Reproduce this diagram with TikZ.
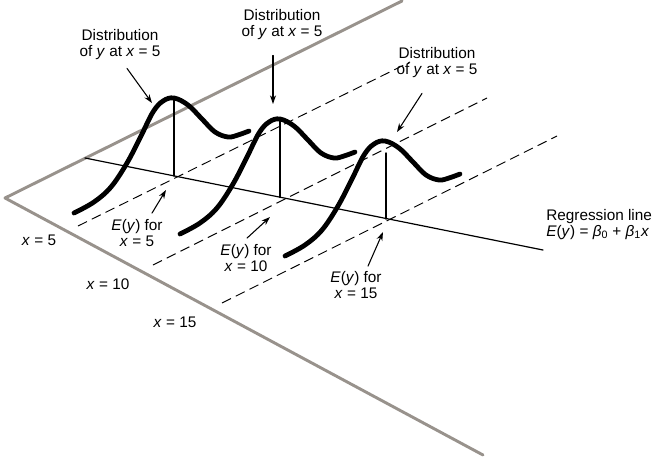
\documentclass[tikz,border=0pt]{standalone}
\usepackage{fontspec}
\setmainfont{Liberation Sans}
\usetikzlibrary{calc,arrows.meta}
\definecolor{planegray}{RGB}{152,146,140}
\begin{document}
\begin{tikzpicture}[x=0.75pt, y=-0.75pt, line cap=round, line join=round, >={Stealth[length=6.5pt,width=4.5pt]}, font=\fontsize{11.5}{12}\selectfont]
			\tikzset{plane/.style={planegray, line width=2.2pt},
				guide/.style={line cap=butt, dash pattern=on 7.5pt off 4pt, line width=0.7pt},
				density/.style={line width=3.6pt},
				label style/.style={align=center, inner sep=0pt}}
			\useasboundingbox (0,0) rectangle (657,457);
			% the (x,y) plane
			\coordinate (corner) at (5,198);
			\coordinate (far) at (402,1);
			\coordinate (near) at (483,455);
			\draw[plane] (far)--(corner)--(near);
			% regression line and the means on it
			\coordinate (r0) at (85,158);
			\coordinate (r1) at (543,250);
			\coordinate (m1) at (174,176);
			\coordinate (m2) at (280,197.5);
			\coordinate (m3) at (386,219);
			\draw[line width=0.9pt] (r0)--(r1);
			\foreach \ax/\ay/\bx/\by in {78/226/410/62, 153/265/487/98, 222/303/557/136}
				\draw[guide] (\ax,\ay)--(\bx,\by);
			\draw[line width=1.1pt] (174,98)--(m1) (280,119)--(m2) (386,153)--(m3);
			\foreach \px/\py in {174/98, 280/119, 385/141}
				\draw[density, shift={(\px,\py)}] plot[smooth, tension=0.6] coordinates
				{(-100,115) (-80,104) (-63,89) (-47,65) (-33,38) (-21,14) (-11,3) (0,0) (14,7) (28,21) (41,34) (54,39) (64,37) (75,33)};
			% labels
			\node[label style] (dist1) at (120,45) {Distribution\\of \textit{y} at \textit{x} = 5};
			\node[label style] (dist2) at (282,25) {Distribution\\of \textit{y} at \textit{x} = 5};
			\node[label style] (dist3) at (437,63) {Distribution\\of \textit{y} at \textit{x} = 5};
			\node[label style] (ey1) at (137,233) {\textit{E}(\textit{y}) for\\\textit{x} = 5};
			\node[label style] (ey2) at (246,258) {\textit{E}(\textit{y}) for\\\textit{x} = 10};
			\node[label style] (ey3) at (356,285) {\textit{E}(\textit{y}) for\\\textit{x} = 15};
			\node[label style] (xfive) at (39,240) {\textit{x} = 5};
			\node[label style] (xten) at (108,284) {\textit{x} = 10};
			\node[label style] (xfifteen) at (175,322) {\textit{x} = 15};
			\node[label style, align=left, anchor=north west] (regline) at (546,209) {Regression line\\\textit{E}(\textit{y}) = \textit{β}\textsubscript{0} + \textit{β}\textsubscript{1}\textit{x}};
			% arrows
			\coordinate (h1) at (152,103);
			\coordinate (h2) at (273,104);
			\coordinate (h3) at (397,132);
			\coordinate (h4) at (166,190);
			\coordinate (h5) at (270,217);
			\coordinate (h6) at (383,232);
			\draw[->, line width=0.8pt] ($(dist1.south)+(7,8)$)--(h1);
			\draw[->, line width=0.8pt] ($(dist2.south)+(-9,15)$)--(h2);
			\draw[->, line width=0.8pt] ($(dist3.south)+(-15,15)$)--(h3);
			\draw[->, line width=0.8pt] ($(ey1.north)+(15,-6)$)--(h4);
			\draw[->, line width=0.8pt] ($(ey2.north)+(1,-6)$)--(h5);
			\draw[->, line width=0.8pt] ($(ey3.north)+(12,-5)$)--(h6);
		\end{tikzpicture}
\end{document}
